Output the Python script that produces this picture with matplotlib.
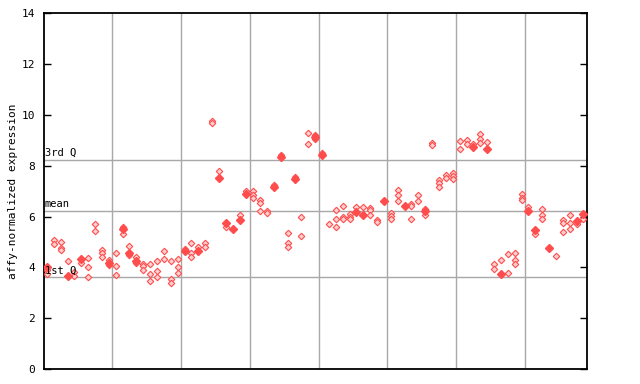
import matplotlib
matplotlib.use("Agg")
import matplotlib.pyplot as plt

# hollow (checkered) points per sample column, 79 columns
col_points = [
    [3.90, 3.74], [5.07, 4.91], [4.99, 4.78, 4.67], [4.24], [3.82, 3.67],
    [4.16], [4.36, 4.01, 3.64], [5.70, 5.42], [4.67, 4.56, 4.40], [4.28, 4.08],
    [4.56, 4.04, 3.69], [5.58, 5.31], [4.83, 4.48], [4.40, 4.16], [4.12, 4.04, 3.89],
    [4.12, 3.73, 3.45], [4.24, 3.87, 3.62], [4.64, 4.32], [4.24, 3.53, 3.38], [4.32, 4.01, 3.77],
    [4.71], [4.95, 4.56, 4.40], [4.80], [4.95, 4.79], [9.75, 9.68],
    [7.79], [5.60], [], [6.05], [7.00],
    [7.00, 6.84, 6.74], [6.66, 6.55, 6.21], [6.21, 6.13], [7.24], [8.42],
    [5.34, 4.97, 4.82], [7.55], [5.97, 5.23], [9.28, 8.85], [9.20, 9.07],
    [8.50], [5.70], [6.25, 5.90, 5.58], [6.41, 5.98, 5.90], [6.09, 5.97, 5.90],
    [6.37], [6.37], [6.33, 6.25, 6.05], [5.86, 5.78], [],
    [6.13, 6.01, 5.90], [7.04, 6.84, 6.60], [], [6.49, 6.41, 5.90], [6.84, 6.60],
    [6.29, 6.05], [8.89, 8.81], [7.43, 7.31, 7.16], [7.63, 7.51], [7.71, 7.59, 7.47],
    [8.97, 8.66], [9.01, 8.85], [8.85], [9.24, 9.05, 8.89], [8.93],
    [4.12, 3.93], [4.28], [4.52, 3.77], [4.56, 4.28, 4.12], [6.88, 6.72, 6.64],
    [6.37], [5.31], [6.29, 6.05, 5.90], [], [4.44],
    [5.86, 5.74, 5.39], [6.05, 5.74, 5.50], [5.70], [5.90],
]

# solid points: (column, value)
solid_cols = [0, 3, 5, 9, 11, 12, 13, 20, 22, 25, 26, 27, 28, 29, 33, 34, 36, 39,
              40, 45, 46, 49, 52, 55, 62, 64, 66, 70, 71, 73, 77, 78]
solid_vals = [4.01, 3.67, 4.34, 4.16, 5.50, 4.56, 4.24, 4.63, 4.64, 7.52, 5.74, 5.50, 5.87, 6.89,
              7.18, 8.34, 7.47, 9.14, 8.42, 6.17, 6.05, 6.60, 6.41, 6.21, 8.73, 8.66, 3.73,
              6.21, 5.46, 4.75, 5.82, 6.09]

q_labels = ["3rd Q", "mean", "1st Q"]
q_values = [8.23, 6.21, 3.61]
group_edges = [10, 20, 30, 40, 50, 60, 70]
y_ticks = [0, 2, 4, 6, 8, 10, 12, 14]

red = "#ff4d4d"
mono = "DejaVu Sans Mono"

fig = plt.figure(figsize=(6.4, 3.84), dpi=100)
ax = fig.add_axes([0.068, 0.039, 0.849, 0.926])

for x in group_edges:
    ax.axvline(x, color="#a8a8a8", lw=1.0, zorder=1)
for lab, v in zip(q_labels, q_values):
    ax.axhline(v, color="#a8a8a8", lw=1.0, zorder=1)
    ax.text(0.2, v + 0.08, lab, fontsize=7.5, family=mono, ha="left", va="bottom", zorder=4)

xs, ys = [], []
for i, vals in enumerate(col_points):
    for v in vals:
        xs.append(i + 0.5)
        ys.append(v)
ax.plot(xs, ys, "D", ms=3.3, mfc="#ffd0d0", mec=red, mew=0.8, ls="none", zorder=3)
ax.plot([c + 0.5 for c in solid_cols], solid_vals, "D", ms=4.0, color=red, ls="none", zorder=3)

ax.set_xlim(0, 79)
ax.set_ylim(0, 14)
ax.set_xticks([])
ax.set_yticks(y_ticks)
ax.set_yticklabels([str(t) for t in y_ticks], family=mono, fontsize=8)
ax.tick_params(axis="y", direction="in", length=5, width=1, right=True, pad=6)
ax.set_ylabel("affy-normalized expression", family=mono, fontsize=8, labelpad=3)
for s in ax.spines.values():
    s.set_linewidth(1.3)

fig.savefig("out.png", dpi=100)
